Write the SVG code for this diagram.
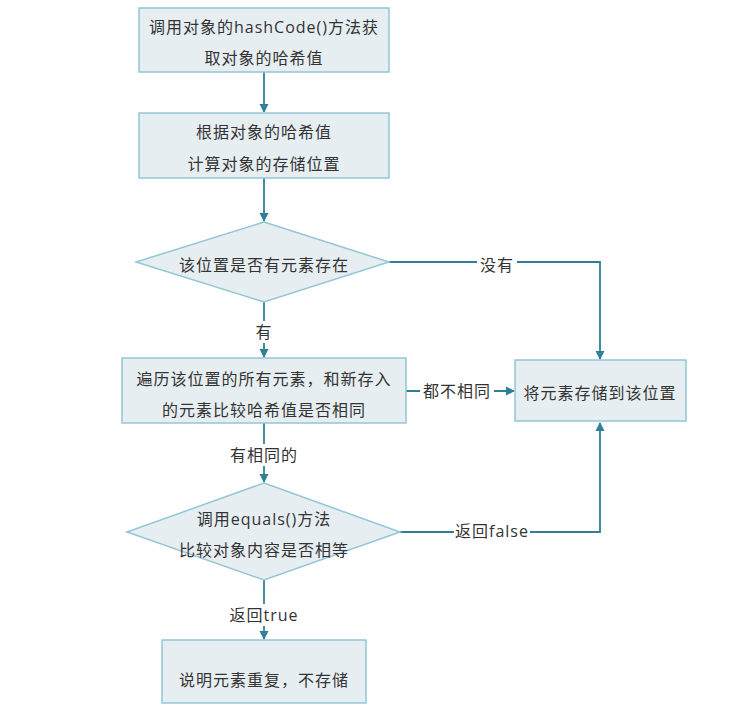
<svg xmlns="http://www.w3.org/2000/svg" width="734" height="722" viewBox="0 0 734 722">
<defs>
<style>
.box{fill:#e7eef2;stroke:#93c6d6;stroke-width:1.5}
.t{font-family:"Open Sans","Noto Sans CJK SC",sans-serif;font-size:16px;letter-spacing:1px;fill:#333333;text-anchor:middle;dominant-baseline:central}
.c{fill:none;stroke:#2f8096;stroke-width:1.8}
.lb{fill:#ffffff}
</style>
<marker id="ah" markerWidth="10" markerHeight="10" refX="8" refY="5" orient="auto" markerUnits="userSpaceOnUse">
<path d="M0,0.5 L9,5 L0,9.5 Z" fill="#2f8096"/>
</marker>
</defs>
<rect width="734" height="722" fill="#ffffff"/>
<g id="connectors">
<path class="c" d="M264,72 L264,112" marker-end="url(#ah)"/>
<path class="c" d="M264,178 L264,221" marker-end="url(#ah)"/>
<path class="c" d="M389,262 L600,262 L600,359" marker-end="url(#ah)"/>
<path class="c" d="M264,302 L264,357" marker-end="url(#ah)"/>
<path class="c" d="M406,391 L514,391" marker-end="url(#ah)"/>
<path class="c" d="M264,423 L264,482" marker-end="url(#ah)"/>
<path class="c" d="M400,532 L600,532 L600,423" marker-end="url(#ah)"/>
<path class="c" d="M264,580 L264,639" marker-end="url(#ah)"/>
<g id="labels">
<rect class="lb" x="477" y="254" width="40" height="22"/>
<text class="t" x="497" y="265">没有</text>
<rect class="lb" x="252" y="321" width="24" height="22"/>
<text class="t" x="264" y="332">有</text>
<rect class="lb" x="420" y="381" width="74" height="22"/>
<text class="t" x="457" y="391">都不相同</text>
<rect class="lb" x="226" y="444" width="76" height="22"/>
<text class="t" x="264" y="455">有相同的</text>
<rect class="lb" x="454" y="521" width="76" height="22"/>
<text class="t" x="492" y="531">返回false</text>
<rect class="lb" x="226" y="604" width="76" height="22"/>
<text class="t" x="264" y="615">返回true</text>
</g>
</g>
<g id="n1">
<rect class="box" x="139" y="8" width="250" height="64"/>
<text class="t" x="264" y="27">调用对象的hashCode()方法获</text>
<text class="t" x="264" y="58">取对象的哈希值</text>
</g>
<g id="n2">
<rect class="box" x="139" y="113" width="250" height="65"/>
<text class="t" x="264" y="132">根据对象的哈希值</text>
<text class="t" x="264" y="164">计算对象的存储位置</text>
</g>
<g id="n3">
<polygon class="box" points="264,222 389,262 264,302 136,262"/>
<text class="t" x="264" y="265">该位置是否有元素存在</text>
</g>
<g id="n4">
<rect class="box" x="122" y="358" width="284" height="65"/>
<text class="t" x="264" y="379">遍历该位置的所有元素，和新存入</text>
<text class="t" x="264" y="410">的元素比较哈希值是否相同</text>
</g>
<g id="n5">
<rect class="box" x="515" y="360" width="171" height="61"/>
<text class="t" x="600" y="393">将元素存储到该位置</text>
</g>
<g id="n6">
<polygon class="box" points="264,483 400,532 264,580 127,532"/>
<text class="t" x="264" y="519">调用equals()方法</text>
<text class="t" x="264" y="550">比较对象内容是否相等</text>
</g>
<g id="n7">
<rect class="box" x="162" y="640" width="204" height="63"/>
<text class="t" x="264" y="680">说明元素重复，不存储</text>
</g>
</svg>
